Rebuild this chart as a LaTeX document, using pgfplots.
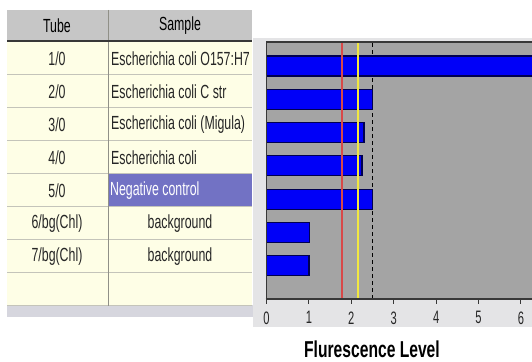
\documentclass[border=0pt]{standalone}
\usepackage{fontspec}
\setmainfont{Liberation Sans}[FakeStretch=0.65]
\newfontfamily\labfamily{Liberation Sans}[FakeStretch=0.68]
\newfontfamily\tickfamily{Liberation Sans}[FakeStretch=0.62]
\usepackage{pgfplots}
\pgfplotsset{compat=1.18}
\definecolor{panelgray}{HTML}{E4E4E6}
\definecolor{stripgray}{HTML}{D6D6DE}
\definecolor{headgray}{HTML}{C6C6C6}
\definecolor{rowyellow}{HTML}{FEFEE6}
\definecolor{negblue}{HTML}{7272C4}
\definecolor{rowline}{HTML}{C4C4BA}
\definecolor{divline}{HTML}{909088}
\definecolor{darkline}{HTML}{383838}
\definecolor{plotgray}{HTML}{A4A4A4}
\definecolor{barblue}{HTML}{0000F8}
\definecolor{baredge}{HTML}{000050}
\definecolor{redline}{HTML}{D84848}
\definecolor{yelline}{HTML}{F2E840}
\newcommand\tf{\fontsize{19bp}{22bp}\selectfont}
\newcommand\kf{\tickfamily\fontsize{18bp}{20bp}\selectfont}
\newcommand\lf{\labfamily\fontsize{23bp}{26bp}\selectfont\bfseries}
\begin{document}
\begin{tikzpicture}
\useasboundingbox (0,0) rectangle (532bp,362bp);
\fill[white] (0,0) rectangle (532bp,362bp);
\begin{scope}[yshift=362bp,x=1bp,y=-1bp]
  \fill[panelgray] (253,38) rectangle (532,327);
  \fill[stripgray] (7,305) rectangle (253,317);
  \fill[headgray] (7,10) rectangle (252,42);
  \fill[rowyellow] (7,42) rectangle (252,306);
  \fill[negblue] (108.5,174) rectangle (252,207);
  \foreach \y in {75,108,141,174,207,240,273,306}
    \draw[rowline, line width=1bp] (7,\y) -- (252,\y);
  \draw[divline, line width=0.8bp] (108,10) -- (108,306);
  \draw[darkline, line width=2bp] (7,41) -- (252,41);
  % header
  \node[text=black, font=\tf] at (57,26) {Tube};
  \node[text=black, font=\tf] at (180,26) {Sample};
  % rows
  \foreach \t [count=\i] in {1/0,2/0,3/0,4/0,5/0,6/bg(Chl),7/bg(Chl)}
    \node[text=black!85, font=\tf] at (57,{42+33*(\i-0.5)}) {\t};
  \node[text=black!85, font=\tf, anchor=west, inner sep=0] at (111,58.5) {Escherichia coli O157:H7};
  \node[text=black!85, font=\tf, anchor=west, inner sep=0] at (111,91.5) {Escherichia coli C str};
  \node[text=black!85, font=\tf, anchor=west, inner sep=0] at (111,124.5) {Escherichia coli (Migula)};
  \node[text=black!85, font=\tf, anchor=west, inner sep=0] at (111,157.5) {Escherichia coli};
  \node[text=white, font=\tf, anchor=west, inner sep=0] at (110,190.5) {Negative control};
  \node[text=black!85, font=\tf] at (180,223.5) {background};
  \node[text=black!85, font=\tf] at (180,256.5) {background};
  \node[text=black, font=\lf, inner sep=1bp] at (372,349) {Flurescence Level};
\end{scope}
\begin{axis}[
  at={(266.5bp,63bp)}, anchor=south west,
  scale only axis, width=265.5bp, height=257bp,
  xmin=0, xmax=6.26, ymin=0, ymax=7.72,
  axis background/.style={fill=plotgray},
  axis line style={draw=none},
  xtick={0,1,2,3,4,5,6}, ytick=\empty,
  tick align=outside, xtick pos=bottom,
  major tick length=5bp,
  tick style={draw=darkline, line width=1bp},
  /pgf/number format/assume math mode=true,
  xticklabel style={font=\kf, text=black!85, yshift=-4bp},
  clip=true,
]
\addplot[draw=black, line width=1.1bp, dash pattern=on 4bp off 3bp] coordinates {(2.49,0) (2.49,7.72)};
\addplot[xbar, bar width=20bp, fill=barblue, draw=baredge, line width=1.2bp] coordinates {
  (6.80,7) (2.49,6) (2.30,5) (2.25,4) (2.49,3) (1.01,2) (1.00,1)};
\addplot[draw=redline, line width=1.6bp] coordinates {(1.78,0) (1.78,7.72)};
\addplot[draw=yelline, line width=1.6bp] coordinates {(2.16,0) (2.16,7.72)};
\end{axis}
\begin{scope}[yshift=362bp,x=1bp,y=-1bp]
  \draw[darkline, line width=1.6bp] (266.5,42) -- (533,42);
  \draw[darkline, line width=1.6bp] (266.5,41.2) -- (266.5,299);
  \draw[darkline, line width=1.6bp] (265.7,299) -- (533,299);
\end{scope}
\end{tikzpicture}
\end{document}
